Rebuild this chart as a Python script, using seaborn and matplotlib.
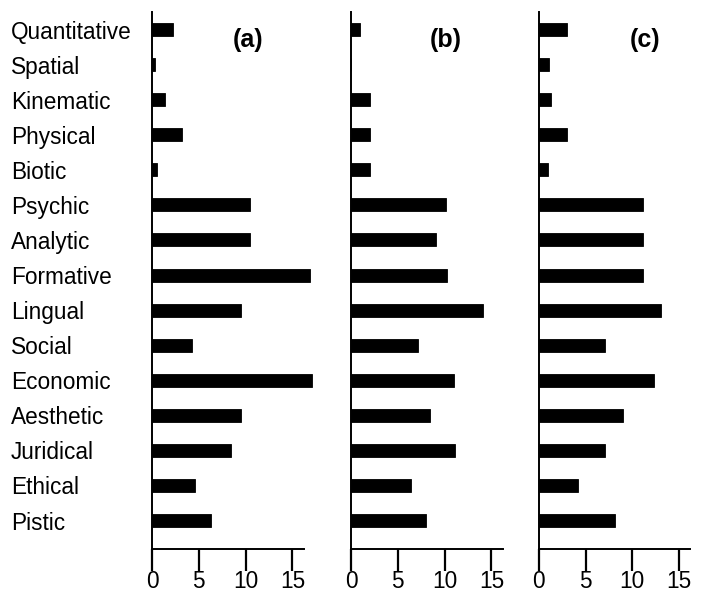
import seaborn as sns
import numpy as np
import matplotlib.pyplot as plt
import pandas as pd

# modal aspects, top to bottom
aspects = ["Quantitative", "Spatial", "Kinematic", "Physical", "Biotic",
           "Psychic", "Analytic", "Formative", "Lingual", "Social",
           "Economic", "Aesthetic", "Juridical", "Ethical", "Pistic"]

# counts
counts_a = [2.2, 0.3, 1.35, 3.2, 0.55, 10.5, 10.5, 16.9, 9.5, 4.25, 17.05, 9.5, 8.45, 4.55, 6.3]
counts_b = [1.0, 0.0, 2.0, 2.0, 2.0, 10.1, 9.05, 10.25, 14.05, 7.2, 11.05, 8.45, 11.1, 6.45, 8.05]
counts_c = [3.05, 1.05, 1.3, 3.05, 1.0, 11.15, 11.1, 11.15, 13.05, 7.1, 12.3, 9.05, 7.1, 4.15, 8.15]

panel_names = ["(a)", "(b)", "(c)"]
xticks = [0, 5, 10, 15]

sns.set_style("white", {"text.color": "black", "axes.labelcolor": "black",
                        "xtick.color": "black", "ytick.color": "black"})
plt.rcParams['font.family'] = ['Liberation Sans', 'DejaVu Sans']

fig = plt.figure(figsize=(7.04, 5.93), dpi=100)

#axes placement in figure fractions
lefts = [152 / 704, 351 / 704, 538.7 / 704]
label_x = [0.586, 0.58, 0.649]
width = 163.8 / 704
bottom = 1 - 549.3 / 593
height = 537.3 / 593

for i, vals in enumerate([counts_a, counts_b, counts_c]):
    ax = fig.add_axes([lefts[i], bottom, width, height])
    df = pd.DataFrame({"aspect": aspects, "count": vals})
    sns.barplot(data=df, x="count", y="aspect", color="black", saturation=1,
                width=0.37, edgecolor="black", linewidth=0.6, ax=ax)
    ax.set_xlim(0, 17.5)
    ax.set_ylim(14.82, -0.5)
    ax.set_xlabel("")
    ax.set_ylabel("")
    ax.set_xticks(xticks)
    ax.set_xticklabels([str(t) for t in xticks])

    for side in ["top", "right"]:
        ax.spines[side].set_visible(False)
    for side in ["left", "bottom"]:
        ax.spines[side].set_color("black")
        ax.spines[side].set_linewidth(1.4)
    ax.spines["bottom"].set_bounds(0, 16.2)

    ax.tick_params(axis="x", length=16, width=1.6, color="black", pad=-1,
                   labelsize=16.3, labelcolor="black", direction="out", bottom=True)
    ax.tick_params(axis="y", length=0, labelsize=16.3, labelcolor="black", pad=101.5)

    if i == 0:
        for lbl in ax.get_yticklabels():
            lbl.set_horizontalalignment("left")
    else:
        ax.set_yticklabels([])

    ax.text(label_x[i], 0.948, panel_names[i], transform=ax.transAxes,
            ha="center", va="center", fontsize=18, fontweight="bold", color="black")

fig.savefig("out.png", dpi=100)
